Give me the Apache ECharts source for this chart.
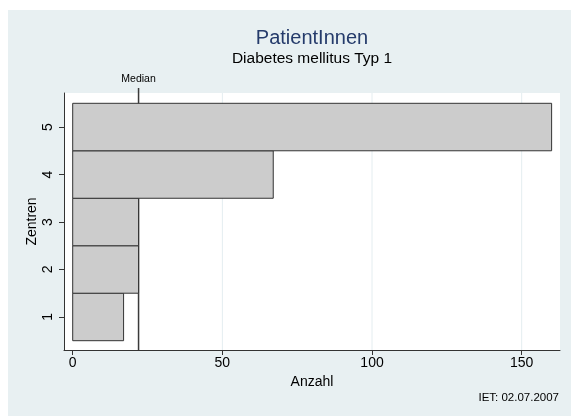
<!DOCTYPE html>
<html>
<head>
<meta charset="utf-8">
<script src="https://cdn.jsdelivr.net/npm/echarts@6/dist/echarts.min.js"></script>
<style>
  html, body { margin: 0; padding: 0; background: #ffffff; }
  #chart { width: 571px; height: 416px; }
</style>
</head>
<body>
<div id="chart"></div>
<script>
// Daten
const zentren = [1, 2, 3, 4, 5];
const anzahl = [17, 22, 22, 67, 160];
const median = 22;
const xTicks = [0, 50, 100, 150];
const yTicks = [1, 2, 3, 4, 5];
const gridVals = [50, 100, 150];

const FONT = '"Liberation Sans", Arial, sans-serif';
const yMin = 0.304, yMax = 5.717;

const chart = echarts.init(document.getElementById('chart'));

chart.setOption({
    backgroundColor: '#e8f0f2',
    animation: false,
    textStyle: { fontFamily: FONT },
    graphic: [
        { type: 'rect', shape: { x: 0, y: 0, width: 571, height: 10 }, style: { fill: '#ffffff' } },
        { type: 'rect', shape: { x: 0, y: 0, width: 8, height: 416 }, style: { fill: '#ffffff' } },
        { type: 'text', style: { text: 'PatientInnen', x: 312, y: 38, align: 'center', verticalAlign: 'middle', fill: '#253b6b', font: '20px ' + FONT } },
        { type: 'text', style: { text: 'Diabetes mellitus Typ 1', x: 312, y: 59, align: 'center', verticalAlign: 'middle', fill: '#000000', font: '15.5px ' + FONT } },
        { type: 'text', style: { text: 'IET: 02.07.2007', x: 559, y: 398, align: 'right', verticalAlign: 'middle', fill: '#000000', font: '11.5px ' + FONT } }
    ],
    grid: {
        left: 64, right: 11, top: 93, bottom: 66,
        show: true, backgroundColor: '#ffffff', borderWidth: 0
    },
    xAxis: {
        type: 'value',
        min: -2.907, max: 162.8,
        name: 'Anzahl',
        nameLocation: 'middle',
        nameGap: 25,
        nameMoveOverlap: false,
        nameTextStyle: { fontSize: 14, color: '#000' },
        axisLine: { show: true, onZero: false, lineStyle: { color: '#333', width: 1 } },
        axisTick: { show: true, length: 5, lineStyle: { color: '#333' }, customValues: xTicks },
        axisLabel: { fontSize: 14, color: '#000', margin: 6, customValues: xTicks },
        splitLine: { show: false }
    },
    yAxis: {
        type: 'value',
        min: yMin, max: yMax,
        name: 'Zentren',
        nameLocation: 'middle',
        nameRotate: 90,
        nameGap: 25,
        nameMoveOverlap: false,
        nameTextStyle: { fontSize: 14, color: '#000' },
        axisLine: { show: true, onZero: false, lineStyle: { color: '#333', width: 1 } },
        axisTick: { show: true, length: 5, lineStyle: { color: '#333' }, customValues: yTicks },
        axisLabel: { fontSize: 14, color: '#000', margin: 9, rotate: 90, customValues: yTicks },
        splitLine: { show: false }
    },
    series: [
        {
            type: 'custom',
            name: 'grid',
            z: 1,
            data: gridVals.map(v => [v]),
            encode: { x: 0 },
            renderItem: function (params, api) {
                const top = api.coord([api.value(0), yMax]);
                const bot = api.coord([api.value(0), yMin]);
                return {
                    type: 'line',
                    shape: { x1: top[0], y1: top[1], x2: bot[0], y2: bot[1] },
                    style: { stroke: '#e4edf0', lineWidth: 1 }
                };
            }
        },
        {
            type: 'custom',
            name: 'Median',
            z: 2,
            clip: false,
            data: [[median]],
            encode: { x: 0 },
            renderItem: function (params, api) {
                const top = api.coord([api.value(0), yMax]);
                const bot = api.coord([api.value(0), yMin]);
                return {
                    type: 'group',
                    children: [
                        {
                            type: 'line',
                            shape: { x1: top[0], y1: top[1] - 5, x2: bot[0], y2: bot[1] },
                            style: { stroke: '#3a3a3a', lineWidth: 1.5 }
                        },
                        {
                            type: 'text',
                            style: { text: 'Median', x: top[0], y: top[1] - 14, align: 'center', verticalAlign: 'middle', fill: '#000', font: '10.5px ' + FONT }
                        }
                    ]
                };
            }
        },
        {
            type: 'custom',
            name: 'Anzahl',
            z: 3,
            data: zentren.map((z, i) => [anzahl[i], z]),
            encode: { x: 0, y: 1 },
            renderItem: function (params, api) {
                const v = api.value(0), c = api.value(1);
                const p0 = api.coord([0, c + 0.5]);
                const p1 = api.coord([v, c - 0.5]);
                return {
                    type: 'rect',
                    shape: { x: p0[0], y: p0[1], width: p1[0] - p0[0], height: p1[1] - p0[1] },
                    style: { fill: '#cccccc', stroke: '#333333', lineWidth: 1 }
                };
            }
        }
    ]
});
</script>
</body>
</html>
